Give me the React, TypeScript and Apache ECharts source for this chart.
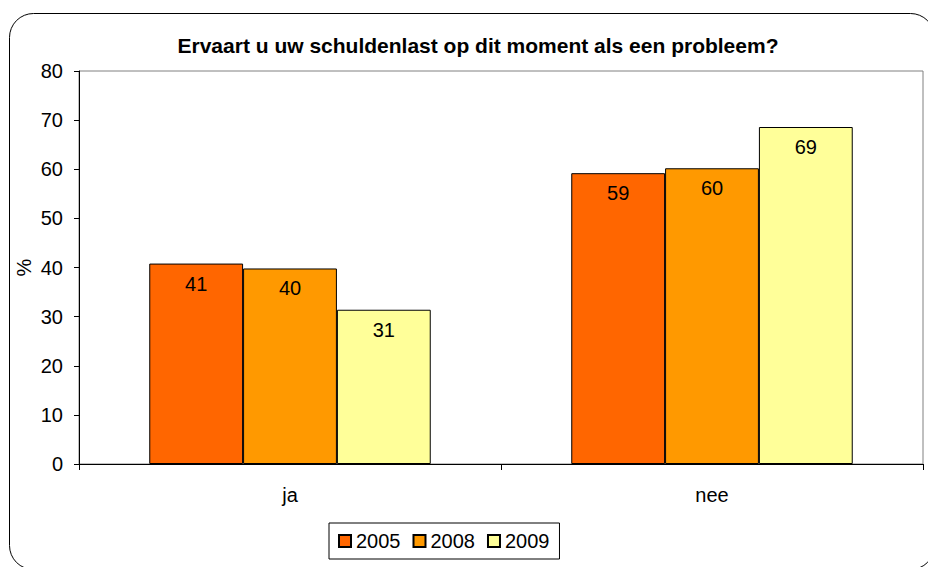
import React, { useEffect, useRef } from "react";
import * as echarts from "echarts";

const categories = ["ja", "nee"];
const years = ["2005", "2008", "2009"];
const values2005 = [40.8, 59.2];
const values2008 = [39.8, 60.2];
const values2009 = [31.4, 68.6];
const colors = ["#FF6600", "#FF9900", "#FFFF99"];
const yTicks = { min: 0, max: 80, interval: 10 };

const FONT = "'Liberation Sans', Arial, sans-serif";

export default function App() {
  const ref = useRef<HTMLDivElement>(null);
  useEffect(() => {
    if (!ref.current) return;
    const chart = echarts.init(ref.current, null, { renderer: "svg" });
    const seriesData = [values2005, values2008, values2009];
    chart.setOption({
      animation: false,
      textStyle: { fontFamily: FONT },
      title: {
        text: "Ervaart u uw schuldenlast op dit moment als een probleem?",
        left: 473,
        top: 30,
        textAlign: "center",
        textStyle: { fontFamily: FONT, fontSize: 21, fontWeight: "bold", color: "#000" },
      },
      graphic: [
        {
          type: "rect",
          shape: { x: 9.5, y: 13.5, width: 925, height: 556, r: 24 },
          style: { fill: "none", stroke: "#000", lineWidth: 1 },
          silent: true,
          z: -1,
        },
      ],
      legend: {
        left: 329,
        top: 523,
        padding: [8, 10, 8, 9],
        itemGap: 12,
        itemWidth: 12,
        itemHeight: 12,
        borderColor: "#000",
        borderWidth: 1,
        icon: "rect",
        textStyle: { fontFamily: FONT, fontSize: 20, color: "#000" },
        data: years,
      },
      grid: {
        left: 79,
        right: 5,
        top: 71,
        bottom: 103,
        show: true,
        borderColor: "#808080",
        borderWidth: 1,
        containLabel: false,
      },
      xAxis: {
        type: "category",
        data: categories,
        axisLine: { show: true, lineStyle: { color: "#000", width: 1 } },
        axisTick: { show: true, length: 6, alignWithLabel: false, lineStyle: { color: "#000" } },
        axisLabel: { fontFamily: FONT, fontSize: 20, color: "#000", margin: 21 },
        z: 10,
      },
      yAxis: {
        type: "value",
        min: yTicks.min,
        max: yTicks.max,
        interval: yTicks.interval,
        name: "%",
        nameLocation: "middle",
        nameGap: 45,
        nameRotate: 90,
        nameMoveOverlap: false,
        nameTextStyle: { fontFamily: FONT, fontSize: 20, color: "#000" },
        splitLine: { show: false },
        axisLine: { show: true, lineStyle: { color: "#000", width: 1 } },
        axisTick: { show: true, length: 5, lineStyle: { color: "#000" } },
        axisLabel: { fontFamily: FONT, fontSize: 20, color: "#000", margin: 16 },
      },
      series: years.map((y, i) => ({
        name: y,
        type: "bar",
        data: seriesData[i],
        barGap: "0%",
        barCategoryGap: "33.3%",
        itemStyle: { color: colors[i], borderColor: "#000", borderWidth: 1 },
        label: {
          show: true,
          position: "insideTop",
          distance: 10,
          fontFamily: FONT,
          fontSize: 20,
          color: "#000",
          formatter: (p: any) => String(Math.round(p.value)),
        },
      })),
    });
    return () => chart.dispose();
  }, []);
  return (
    <div
      ref={ref}
      style={{ position: "fixed", left: 0, top: 0, width: 928, height: 567, background: "#fff" }}
    />
  );
}
